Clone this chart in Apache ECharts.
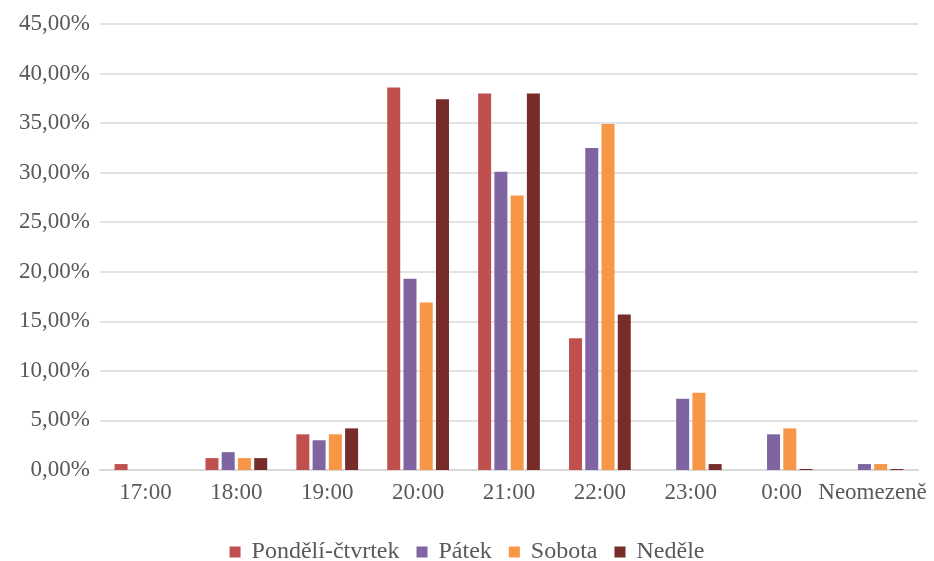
<!DOCTYPE html>
<html>
<head>
<meta charset="utf-8">
<script src="https://cdn.jsdelivr.net/npm/echarts@6/dist/echarts.min.js"></script>
<style>html,body{margin:0;padding:0;background:#fff}#c{width:934px;height:561px}</style>
</head>
<body>
<div id="c"></div>
<script>
const categories = ['17:00','18:00','19:00','20:00','21:00','22:00','23:00','0:00','Neomezeně'];
const seriesNames = ['Pondělí-čtvrtek','Pátek','Sobota','Neděle'];
const ponCtv = [0.6, 1.2, 3.6, 38.6, 38.0, 13.3, 0, 0, 0];
const patek  = [0, 1.8, 3.0, 19.3, 30.1, 32.5, 7.2, 3.6, 0.6];
const sobota = [0, 1.2, 3.6, 16.9, 27.7, 34.9, 7.8, 4.2, 0.6];
const nedele = [0, 1.2, 4.2, 37.4, 38.0, 15.7, 0.6, 0.1, 0.1];
const colors = ['#c0504d','#8064a2','#f79646','#772c2a'];
const values = [ponCtv, patek, sobota, nedele];

const font = 'Liberation Serif';
const fs = 23;
const chart = echarts.init(document.getElementById('c'));
chart.setOption({
  animation: false,
  color: colors,
  grid: {left: 100, right: 16, top: 24, bottom: 91},
  legend: {
    top: 540, left: 'center', padding: 0,
    icon: 'rect', itemWidth: 11, itemHeight: 11, itemGap: 17,
    textStyle: {fontFamily: font, fontSize: 24, color: '#595959', padding: [0, 0, 0, 6]},
    data: seriesNames
  },
  xAxis: {
    type: 'category', data: categories,
    axisLine: {lineStyle: {color: '#d9d9d9', width: 2}},
    axisTick: {show: false},
    axisLabel: {fontFamily: font, fontSize: fs, color: '#595959', margin: 11, interval: 0}
  },
  yAxis: {
    type: 'value', min: 0, max: 45, interval: 5,
    axisLine: {show: false}, axisTick: {show: false},
    splitLine: {lineStyle: {color: '#d9d9d9', width: 1.5}},
    axisLabel: {fontFamily: font, fontSize: fs, color: '#595959', margin: 10,
      formatter: v => v.toFixed(2).replace('.', ',') + '%'}
  },
  series: seriesNames.map((n, i) => ({
    name: n, type: 'bar', data: values[i],
    barWidth: 13, barGap: '25%'
  }))
});
</script>
</body>
</html>
